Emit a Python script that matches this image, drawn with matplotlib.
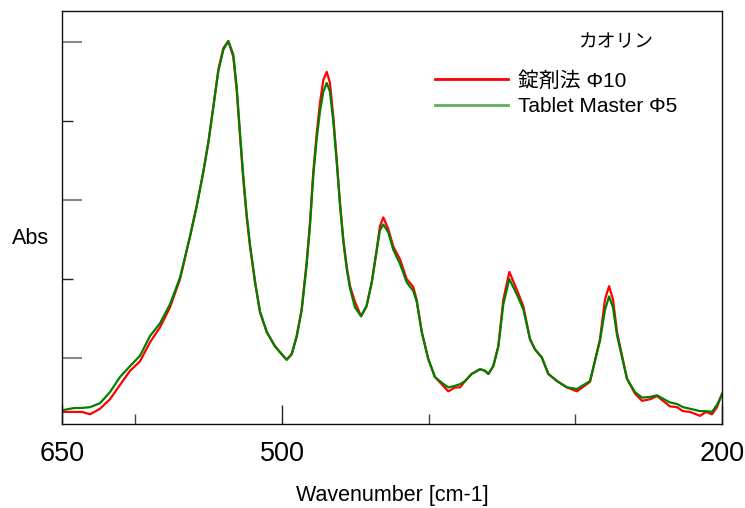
import matplotlib
matplotlib.use('Agg')
import matplotlib.pyplot as plt  # noqa
from matplotlib.lines import Line2D
from matplotlib.ticker import FixedLocator, NullFormatter

plt.rcParams['font.family'] = ['Liberation Sans', 'Noto Sans CJK JP', 'DejaVu Sans']

# wavenumber [cm-1] and absorbance
wn = [650.0, 644.5, 641.1, 636.4, 630.9, 624.1, 617.3, 610.5, 603.6, 596.8,
      590.0, 583.2, 576.4, 569.5, 562.7, 558.2, 553.7, 550.2, 546.8, 543.4,
      540.0, 536.6, 533.2, 530.9, 528.6, 526.4, 524.1, 521.8, 518.4, 515.0,
      510.4, 504.8, 500.2, 496.8, 493.4, 490.0, 486.6, 483.2, 480.9, 478.7,
      476.3, 474.1, 471.8, 469.5, 467.3, 465.0, 462.7, 460.5, 458.2, 455.9,
      453.6, 450.2, 446.1, 442.3, 438.8, 435.4, 433.2, 430.9, 427.5, 424.1,
      419.5, 415.0, 410.5, 408.2, 404.7, 400.3, 395.7, 391.1, 386.6, 382.0,
      378.6, 375.2, 370.7, 365.0, 361.6, 359.3, 355.9, 352.5, 349.1, 345.0,
      340.0, 335.5, 330.9, 327.5, 322.9, 318.4, 312.5, 305.7, 298.9, 290.0,
      283.2, 279.8, 277.0, 274.3, 271.6, 264.8, 259.3, 254.5, 249.0, 244.3,
      239.5, 235.5, 230.7, 226.6, 221.8, 215.0, 210.9, 206.8, 203.4, 200.0]

abs_tablet = [0.032, 0.032, 0.032, 0.032, 0.029, 0.036, 0.048, 0.066, 0.084, 0.096,
              0.120, 0.139, 0.164, 0.200, 0.254, 0.292, 0.335, 0.373, 0.418, 0.465,
              0.492, 0.501, 0.481, 0.439, 0.380, 0.326, 0.279, 0.241, 0.196, 0.158,
              0.133, 0.115, 0.105, 0.098, 0.105, 0.128, 0.162, 0.221, 0.272, 0.335,
              0.385, 0.423, 0.452, 0.462, 0.448, 0.405, 0.351, 0.297, 0.250, 0.216,
              0.191, 0.171, 0.153, 0.166, 0.196, 0.238, 0.267, 0.278, 0.263, 0.241,
              0.225, 0.200, 0.190, 0.174, 0.133, 0.099, 0.076, 0.067, 0.058, 0.063,
              0.063, 0.071, 0.080, 0.086, 0.084, 0.080, 0.090, 0.115, 0.174, 0.209,
              0.187, 0.166, 0.124, 0.111, 0.101, 0.080, 0.071, 0.063, 0.058, 0.070,
              0.124, 0.174, 0.191, 0.174, 0.133, 0.074, 0.055, 0.046, 0.048, 0.052,
              0.045, 0.039, 0.038, 0.033, 0.032, 0.027, 0.032, 0.029, 0.038, 0.055]

abs_master = [0.034, 0.036, 0.037, 0.037, 0.038, 0.043, 0.057, 0.076, 0.090, 0.103,
              0.128, 0.144, 0.168, 0.202, 0.254, 0.292, 0.335, 0.373, 0.418, 0.463,
              0.490, 0.501, 0.484, 0.443, 0.384, 0.330, 0.282, 0.243, 0.197, 0.159,
              0.133, 0.115, 0.105, 0.098, 0.105, 0.127, 0.160, 0.218, 0.268, 0.330,
              0.378, 0.412, 0.437, 0.448, 0.437, 0.399, 0.348, 0.295, 0.248, 0.213,
              0.188, 0.164, 0.153, 0.166, 0.196, 0.236, 0.262, 0.269, 0.259, 0.237,
              0.219, 0.196, 0.185, 0.172, 0.133, 0.099, 0.076, 0.069, 0.063, 0.065,
              0.067, 0.071, 0.080, 0.086, 0.084, 0.080, 0.090, 0.115, 0.168, 0.200,
              0.181, 0.162, 0.124, 0.111, 0.101, 0.080, 0.071, 0.063, 0.061, 0.071,
              0.122, 0.161, 0.178, 0.164, 0.129, 0.074, 0.057, 0.050, 0.051, 0.053,
              0.048, 0.044, 0.042, 0.038, 0.036, 0.033, 0.033, 0.032, 0.041, 0.054]

labels = ['錠剤法 Φ10', 'Tablet Master Φ5']
legend_title = 'カオリン'

fig = plt.figure(figsize=(7.45, 5.08), dpi=100)
ax = fig.add_axes([62 / 745, 84 / 508, 660 / 745, 413 / 508])

ax.plot(wn, abs_tablet, color='#ff0000', lw=1.6, solid_joinstyle='round')
ax.plot(wn, abs_master, color='#008000', lw=1.6, solid_joinstyle='round')

ax.set_xlim(650, 200)
ax.set_ylim(0.0167, 0.539)

# x ticks: labels at 650, 500, 200; short marks at 600, 400, 300
ax.xaxis.set_major_locator(FixedLocator([650, 500, 200]))
ax.xaxis.set_minor_locator(FixedLocator([600, 400, 300]))
ax.tick_params(axis='x', which='major', direction='in', length=14, width=1,
               color='#222222', labelsize=19.5, pad=12)
ax.tick_params(axis='x', which='minor', direction='in', length=7.5, width=1,
               color='#444444')

# y ticks: no labels
ax.yaxis.set_major_locator(FixedLocator([0.1, 0.3, 0.5]))
ax.yaxis.set_minor_locator(FixedLocator([0.2, 0.4]))
ax.yaxis.set_major_formatter(NullFormatter())
ax.tick_params(axis='y', which='major', direction='in', length=14.5, width=1.5,
               color='#888888')
ax.tick_params(axis='y', which='minor', direction='in', length=8, width=1,
               color='#222222')

for s in ax.spines.values():
    s.set_linewidth(1)
    s.set_color('#111111')

ax.set_xlabel('Wavenumber [cm-1]', fontsize=15.5, labelpad=13)
ax.set_ylabel('Abs', fontsize=15.5, rotation=0, ha='center', va='center')
ax.yaxis.set_label_coords(-0.048, 0.45)

handles = [Line2D([], [], color='#ff0000', lw=2),
           Line2D([], [], color='#60ae60', lw=2)]
ax.legend(handles, labels, loc='upper left', frameon=False, fontsize=15,
          bbox_to_anchor=(435 / 745, 1 - 71 / 508), bbox_transform=fig.transFigure,
          borderpad=0, borderaxespad=0, handlelength=3.5, handletextpad=0.5,
          labelspacing=0.3)
fig.text(616 / 745, 1 - 43 / 508, legend_title, fontsize=13.5, ha='center', va='center')

fig.savefig('out.png', dpi=100)
